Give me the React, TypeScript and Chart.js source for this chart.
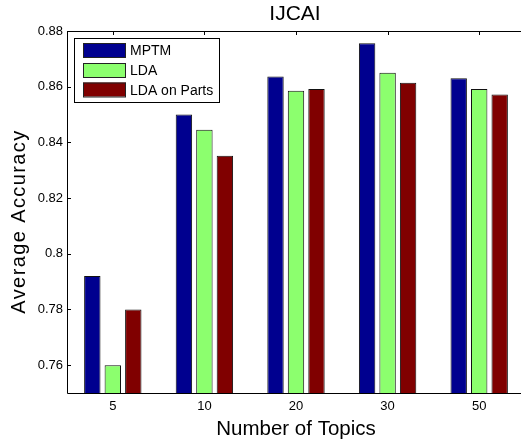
import React, { useEffect, useRef } from "react";
import { Chart, registerables } from "chart.js";

Chart.register(...registerables);

const categories = ["5", "10", "20", "30", "50"];
const mptm = [0.792, 0.85, 0.8637, 0.8756, 0.863];
const lda = [0.76, 0.8445, 0.8585, 0.865, 0.8592];
const ldaParts = [0.78, 0.8352, 0.8592, 0.8614, 0.8572];
const yTickValues = [0.76, 0.78, 0.8, 0.82, 0.84, 0.86, 0.88];
const yTickLabels = ["0.76", "0.78", "0.8", "0.82", "0.84", "0.86", "0.88"];
const seriesNames = ["MPTM", "LDA", "LDA on Parts"];
const seriesColors = ["#00008f", "#8cff6e", "#800000"];
const chartTitle = "IJCAI";
const xTitle = "Number of Topics";
const yTitle = "Average Accuracy";

const FONT = '"Liberation Sans", Arial, Helvetica, sans-serif';

const decorPlugin = {
  id: "decor",
  afterDraw(chart: any) {
    const ctx = chart.ctx;
    const area = chart.chartArea;
    const xs = chart.scales.x;
    const ys = chart.scales.y;
    ctx.save();
    ctx.strokeStyle = "#000";
    ctx.lineWidth = 1;
    const L = Math.round(area.left) + 0.5;
    const T = Math.round(area.top) + 0.5;
    const B = Math.round(area.bottom) + 0.5;
    ctx.beginPath();
    ctx.moveTo(L, T);
    ctx.lineTo(chart.width + 5, T);
    ctx.moveTo(L, T);
    ctx.lineTo(L, B);
    ctx.lineTo(chart.width + 5, B);
    ctx.stroke();
    // inside ticks
    ctx.beginPath();
    for (let i = 0; i < categories.length; i++) {
      const x = Math.round(xs.getPixelForValue(i)) + 0.5;
      ctx.moveTo(x, area.top);
      ctx.lineTo(x, area.top + 4);
    }
    for (const v of yTickValues) {
      const y = Math.round(ys.getPixelForValue(v)) + 0.5;
      ctx.moveTo(area.left, y);
      ctx.lineTo(area.left + 4, y);
    }
    ctx.stroke();

    // legend
    const lx = 74.5, ly = 38.5, lw = 145, lh = 64;
    ctx.fillStyle = "#fff";
    ctx.fillRect(lx, ly, lw, lh);
    ctx.strokeStyle = "#000";
    ctx.strokeRect(lx, ly, lw, lh);
    ctx.font = `14px ${FONT}`;
    ctx.textBaseline = "alphabetic";
    ctx.textAlign = "left";
    const centers = [50, 70, 89.5];
    chart.data.datasets.forEach((ds: any, i: number) => {
      const cy = centers[i];
      ctx.fillStyle = ds.backgroundColor;
      ctx.fillRect(83, cy - 7, 43, 14);
      ctx.strokeStyle = "#222";
      ctx.strokeRect(83.5, cy - 7 + 0.5, 42, 14);
      ctx.fillStyle = "#000";
      ctx.fillText(ds.label, 130, cy + 5);
    });

    // titles
    ctx.fillStyle = "#000";
    ctx.textAlign = "center";
    ctx.font = `21px ${FONT}`;
    ctx.fillText(chartTitle, 295, 20);
    ctx.font = `20.5px ${FONT}`;
    ctx.fillText(xTitle, 296, 435);
    ctx.font = `20px ${FONT}`;
    try {
      (ctx as any).letterSpacing = "1.4px";
    } catch (e) {}
    ctx.translate(25, 221.5);
    ctx.rotate(-Math.PI / 2);
    ctx.fillText(yTitle, 0, 0);
    try {
      (ctx as any).letterSpacing = "0px";
    } catch (e) {}
    ctx.restore();
  },
};

export default function App() {
  const ref = useRef<HTMLCanvasElement>(null);
  useEffect(() => {
    document.body.style.margin = "0";
    const canvas = ref.current!;
    const chart = new Chart(canvas, {
      type: "bar",
      data: {
        labels: categories,
        datasets: [mptm, lda, ldaParts].map((d, i) => ({
          label: seriesNames[i],
          data: d,
          backgroundColor: seriesColors[i],
          borderColor: "#111",
          borderWidth: 1,
          borderSkipped: false,
          categoryPercentage: 0.671,
          barPercentage: 0.8,
        })),
      },
      options: {
        animation: false,
        responsive: false,
        maintainAspectRatio: false,
        layout: { padding: { top: 31, right: 15, left: 0, bottom: 0 } },
        plugins: {
          legend: { display: false },
          title: { display: false },
          tooltip: { enabled: false },
        },
        scales: {
          x: {
            grid: { display: false, drawTicks: false },
            border: { display: false },
            ticks: { color: "#000", font: { family: FONT, size: 13 }, padding: 6, maxRotation: 0 },
            afterFit: (s: any) => {
              s.height = 46;
            },
          },
          y: {
            min: 0.75,
            max: 0.88,
            grid: { display: false, drawTicks: false },
            border: { display: false },
            afterBuildTicks: (s: any) => {
              s.ticks = yTickValues.map((v) => ({ value: v }));
            },
            ticks: {
              color: "#000",
              font: { family: FONT, size: 13 },
              padding: 4,
              callback: (v: any) => {
                const idx = yTickValues.findIndex((t) => Math.abs(t - Number(v)) < 1e-9);
                return idx >= 0 ? yTickLabels[idx] : "";
              },
            },
            afterFit: (s: any) => {
              s.width = 67;
            },
          },
        },
      },
      plugins: [decorPlugin],
    });
    return () => chart.destroy();
  }, []);
  return (
    <div style={{ width: 521, height: 439, overflow: "hidden", position: "relative", background: "#fff" }}>
      <canvas ref={ref} width={540} height={439} style={{ display: "block" }} />
    </div>
  );
}
